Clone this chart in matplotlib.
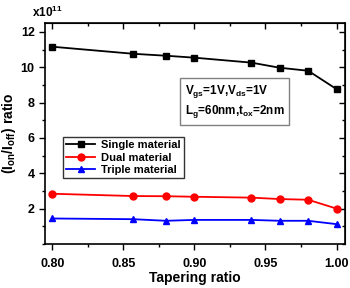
import numpy as np
import matplotlib.pyplot as plt
from matplotlib.ticker import MultipleLocator

plt.rcParams['font.family'] = ['Liberation Sans', 'DejaVu Sans']
plt.rcParams['font.weight'] = 'bold'
plt.rcParams['mathtext.fontset'] = 'custom'
plt.rcParams['mathtext.rm'] = 'Liberation Sans:bold'
plt.rcParams['mathtext.it'] = 'Liberation Sans:bold'
plt.rcParams['mathtext.bf'] = 'Liberation Sans:bold'
plt.rcParams['mathtext.default'] = 'rm'

# tapering ratio
taper = [0.80, 0.857, 0.88, 0.90, 0.94, 0.96, 0.98, 1.00]
# Ion/Ioff ratio in units of 1e11
single = [11.16, 10.76, 10.65, 10.54, 10.26, 9.97, 9.80, 8.76]
dual = [2.84, 2.71, 2.70, 2.67, 2.62, 2.54, 2.50, 2.00]
triple = [1.44, 1.40, 1.31, 1.36, 1.36, 1.31, 1.31, 1.12]

fig = plt.figure(figsize=(3.5, 2.88), dpi=100)
ax = fig.add_axes([0.129, 0.153, 0.857, 0.767])

ax.plot(taper, single, '-s', color='black', ms=5, lw=1.3, label='Single material')
ax.plot(taper, dual, '-o', color='red', ms=5, lw=1.3, label='Dual material')
ax.plot(taper, triple, '-^', color='blue', ms=5, lw=1.3, label='Triple material')

ax.set_xlim(0.795, 1.006)
ax.set_ylim(0, 12.5)
ax.xaxis.set_minor_locator(MultipleLocator(0.025))
ax.yaxis.set_minor_locator(MultipleLocator(1))
ax.set_yticks([2, 4, 6, 8, 10, 12])
ax.set_xticks([0.80, 0.85, 0.90, 0.95, 1.00])
ax.set_xticklabels(['0.80', '0.85', '0.90', '0.95', '1.00'])
ax.tick_params(which='both', direction='out', labelsize=9, width=1)
ax.tick_params(which='major', length=4)
ax.tick_params(which='minor', length=2)
ax.tick_params(axis='x', pad=6)

# inward ticks on top and right
sec_x = ax.secondary_xaxis('top')
sec_x.set_xticks([0.80, 0.85, 0.90, 0.95, 1.00])
sec_x.xaxis.set_minor_locator(MultipleLocator(0.025))
sec_x.tick_params(which='both', direction='in', labeltop=False, width=1)
sec_x.tick_params(which='major', length=4)
sec_x.tick_params(which='minor', length=2)
sec_y = ax.secondary_yaxis('right')
sec_y.set_yticks([2, 4, 6, 8, 10, 12])
sec_y.yaxis.set_minor_locator(MultipleLocator(1))
sec_y.tick_params(which='both', direction='in', labelright=False, width=1)
sec_y.tick_params(which='major', length=4)
sec_y.tick_params(which='minor', length=2)

for s in ax.spines.values():
    s.set_linewidth(1.2)

ax.set_xlabel('Tapering ratio', fontsize=10, fontweight='bold', labelpad=1)
ax.set_ylabel('(I$_{on}$/I$_{off}$) ratio', fontsize=10, fontweight='bold', labelpad=2)

fig.text(0.092, 0.94, r'x10$^{11}$', fontsize=8.5, fontweight='bold')

leg = ax.legend(loc='upper left', bbox_to_anchor=(0.06, 0.484), fontsize=8,
                frameon=True, fancybox=False, edgecolor='black',
                handlelength=2.6, handletextpad=0.5, labelspacing=0.2,
                borderpad=0.3, borderaxespad=0)
leg.get_frame().set_linewidth(1.0)
for t in leg.get_texts():
    t.set_fontweight('bold')

ax.text(0.465, 0.645, 'V$_{gs}$=1V,V$_{ds}$=1V\nL$_{g}$=60nm,t$_{ox}$=2nm',
        transform=ax.transAxes, fontsize=8.5, fontweight='bold',
        va='center', ha='left', linespacing=1.25,
        bbox=dict(boxstyle='square,pad=0.4', fc='white', ec='gray', lw=1))

fig.savefig('out.png', dpi=100)
